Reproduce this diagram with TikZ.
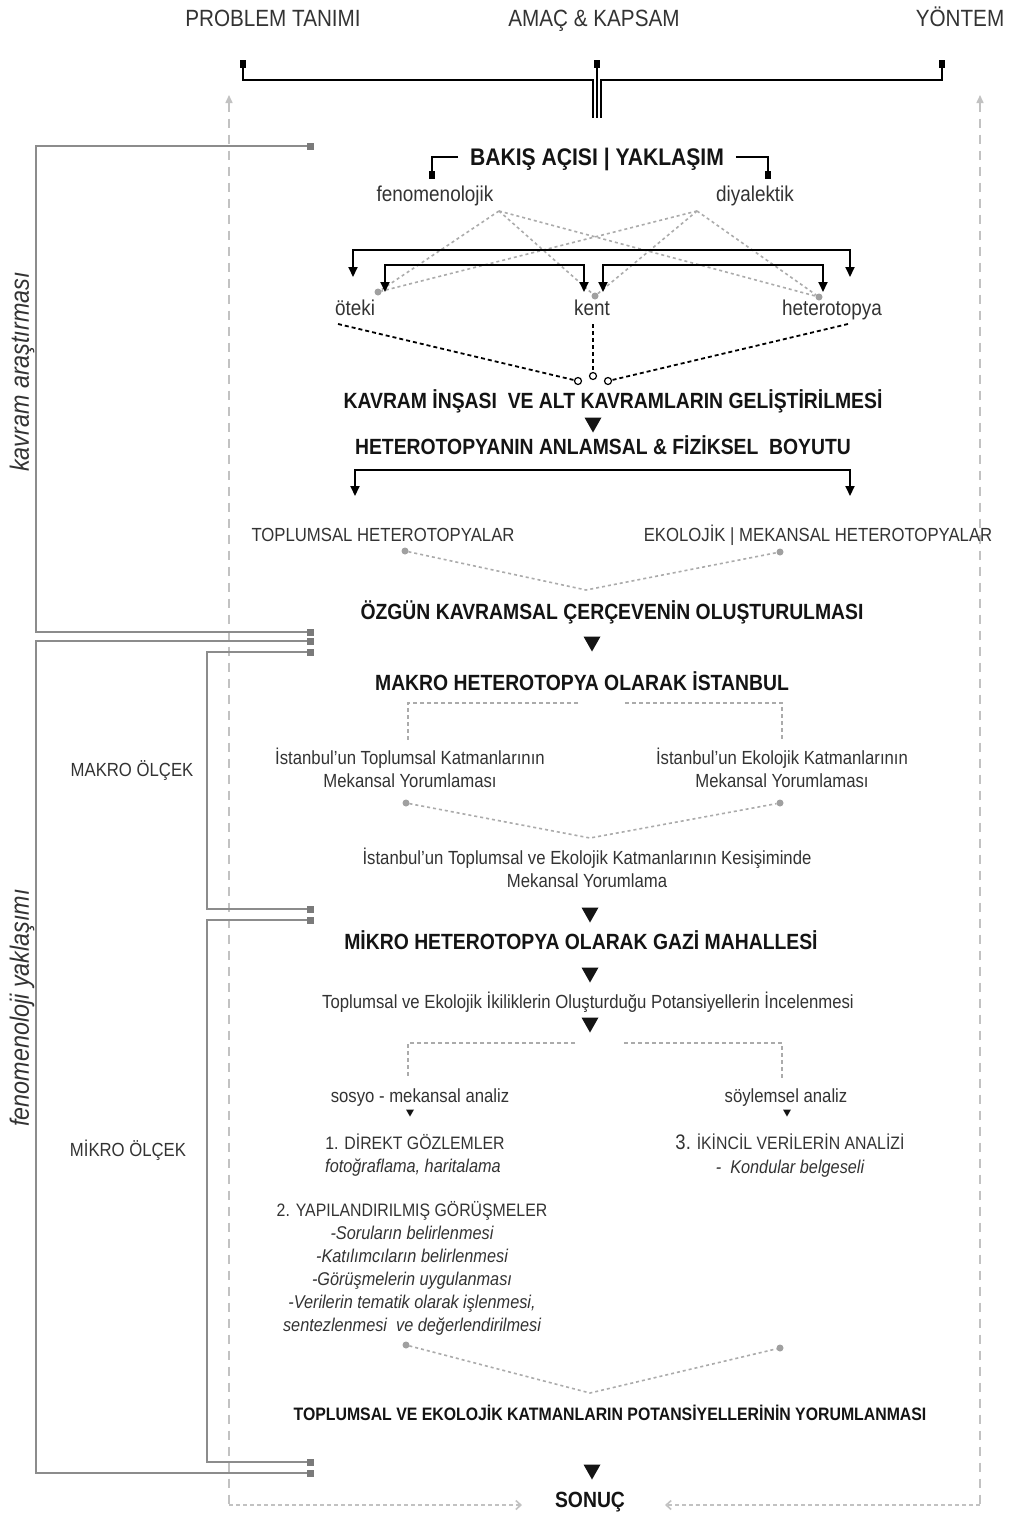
\documentclass[tikz,border=0pt]{standalone}
\usepackage{fontspec}
\setmainfont{Liberation Sans}[FakeStretch=0.88]
\usetikzlibrary{arrows.meta}
\definecolor{txt}{HTML}{333333}
\definecolor{ink}{HTML}{141414}
\definecolor{brgray}{HTML}{8C8C8C}
\definecolor{sqgray}{HTML}{7A7A7A}
\definecolor{dgray}{HTML}{ABABAB}
\definecolor{dotgray}{HTML}{A0A0A0}
\definecolor{sgray}{HTML}{C2C2C2}
\tikzset{
  every node/.style={inner sep=0pt, outer sep=0pt},
  toplbl/.style={text height=16.8pt, text depth=0pt, font=\fontsize{23.5}{26}\selectfont, text=txt},
  hdL/.style={text height=17.2pt, text depth=0pt, font=\bfseries\fontsize{24}{26}\selectfont, text=ink},
  hd/.style={text height=15.8pt, text depth=0pt, font=\bfseries\fontsize{22}{24}\selectfont, text=ink},
  hdS/.style={text height=12.9pt, text depth=0pt, font=\bfseries\fontsize{18}{20}\selectfont, text=ink},
  reg/.style={text height=15.4pt, text depth=0pt, font=\fontsize{21.5}{24}\selectfont, text=txt},
  body/.style={text height=13.6pt, text depth=0pt, font=\fontsize{19}{23}\selectfont, text=txt},
  sml/.style={text height=12.9pt, text depth=0pt, font=\fontsize{18}{23}\selectfont, text=txt},
  itl/.style={text height=13.2pt, text depth=0pt, font=\itshape\fontsize{18.5}{23}\selectfont, text=txt},
  sidelbl/.style={font=\itshape\fontsize{26.5}{28}\selectfont, text=txt, rotate=90},
  gbr/.style={draw=brgray, line width=2.4pt},
  blk/.style={draw=black, line width=1.9pt},
  blkarr/.style={draw=black, line width=1.9pt, {Triangle[length=10pt,width=9pt]}-{Triangle[length=10pt,width=9pt]}},
  gdot/.style={draw=dgray, line width=1.6pt, dash pattern=on 3pt off 3pt},
  gdash/.style={draw=dgray, line width=1.6pt, dash pattern=on 4pt off 3pt},
  kdot/.style={draw=black, line width=1.8pt, dash pattern=on 4pt off 3pt},
  sdash/.style={draw=sgray, line width=1.5pt, dash pattern=on 9pt off 7pt},
  sdot/.style={draw=sgray, line width=1.6pt, dash pattern=on 4pt off 3pt},
  gdotn/.style={circle, fill=dotgray, minimum size=7pt},
  ocirc/.style={circle, draw=black, line width=1.2pt, fill=white, minimum size=7pt},
  dtri/.pic={\fill[ink] (-8.5,-7.5) -- (8.5,-7.5) -- (0,7.5) -- cycle;},
  stri/.pic={\fill[ink] (-4,-3.5) -- (4,-3.5) -- (0,3.5) -- cycle;},
  gsq/.pic={\fill[sqgray] (-3.5,-3.5) rectangle (3.5,3.5);},
  bsq/.pic={\fill[black] (-3,-4) rectangle (3,4);}
}
\begin{document}
\begin{tikzpicture}[x=1pt,y=-1pt]
\useasboundingbox[fill=white] (0,0) rectangle (1013,1513);

% ---------- side dashed feedback lines ----------
\coordinate (lt) at (229,95);
\coordinate (lb) at (229,1505);
\coordinate (le) at (522,1505);
\coordinate (rt) at (980,95);
\coordinate (rb) at (980,1505);
\coordinate (re) at (665,1505);
\draw[sdash, {Triangle[length=8pt,width=7pt,fill=sgray]}-] (lt) -- (lb);
\draw[sdot, -{Straight Barb[length=5pt,width=9pt]}] (lb) -- (le);
\draw[sdash, {Triangle[length=8pt,width=7pt,fill=sgray]}-] (rt) -- (rb);
\draw[sdot, -{Straight Barb[length=5pt,width=9pt]}] (rb) -- (re);

% ---------- top ----------
\node[toplbl] (prob) at (273,18) {PROBLEM TANIMI};
\node[toplbl] (amac) at (594,18) {AMAÇ \& KAPSAM};
\node[toplbl] (yont) at (960,18) {YÖNTEM};
\coordinate (sqL) at (243,64);
\coordinate (sqC) at (597,64);
\coordinate (sqR) at (942,64);
\draw[blk] (sqL) -- (243,80) -- (593,80) -- (593,118);
\draw[blk, line width=1.6pt] (sqC) -- (597,118);
\draw[blk] (sqR) -- (942,80) -- (601,80) -- (601,118);
\pic at (sqL) {bsq};
\pic at (sqC) {bsq};
\pic at (sqR) {bsq};

% ---------- left brackets ----------
\coordinate (k1) at (310,146); \coordinate (k2) at (310,632);
\coordinate (f1) at (310,641); \coordinate (f2) at (310,1473);
\coordinate (m1) at (310,652); \coordinate (m2) at (310,909);
\coordinate (n1) at (310,920); \coordinate (n2) at (310,1462);
\draw[gbr] (k1) -- (36,146) -- (36,632) -- (k2);
\draw[gbr] (f1) -- (36,641) -- (36,1473) -- (f2);
\draw[gbr] (m1) -- (207,652) -- (207,909) -- (m2);
\draw[gbr] (n1) -- (207,920) -- (207,1462) -- (n2);
\foreach \p in {k1,k2,f1,f2,m1,m2,n1,n2} {\pic at (\p) {gsq};}
\node[sidelbl] (kav) at (22,372) {kavram araştırması};
\node[sidelbl] (fen) at (22,1008) {fenomenoloji yaklaşımı};
\node[body] (makro) at (132,770) {MAKRO ÖLÇEK};
\node[body] (mikro) at (128,1150) {MİKRO ÖLÇEK};

% ---------- bakis acisi ----------
\node[hdL] (bakis) at (597,157) {BAKIŞ AÇISI | YAKLAŞIM};
\coordinate (bsl) at (432,175);
\coordinate (bsr) at (768,175);
\draw[blk] ([xshift=-12pt]bakis.west) -- (432,157) -- (bsl);
\draw[blk] ([xshift=12pt]bakis.east) -- (768,157) -- (bsr);
\pic at (bsl) {bsq};
\pic at (bsr) {bsq};
\node[reg] (fenk) at (435,194) {fenomenolojik};
\node[reg] (diya) at (755,194) {diyalektik};
\coordinate (fp) at (499,211);
\coordinate (dp) at (697,211);

\node[gdotn] (dO) at (378,292) {};
\node[gdotn] (dK) at (595,296) {};
\node[gdotn] (dH) at (819,297) {};
\foreach \t in {dO,dK,dH} {
  \draw[gdot] (fp) -- (\t);
  \draw[gdot] (dp) -- (\t);
}

\draw[blkarr] (353,277) -- (353,250) -- (850,250) -- (850,277);
\draw[blkarr] (385,292) -- (385,265) -- (584,265) -- (584,292);
\draw[blkarr] (603,292) -- (603,265) -- (823,265) -- (823,292);

\node[reg] (oteki) at (355,308) {öteki};
\node[reg] (kent) at (592,308) {kent};
\node[reg] (hetero) at (832,308) {heterotopya};

\node[ocirc] (o1) at (578,381) {};
\node[ocirc] (o2) at (593,376) {};
\node[ocirc] (o3) at (608,381) {};
\draw[kdot] (338,324) -- (o1);
\draw[kdot] (593,324) -- (o2);
\draw[kdot] (848,324) -- (o3);

\node[hd] (kavram) at (613,401) {KAVRAM İNŞASI\ \ VE ALT KAVRAMLARIN GELİŞTİRİLMESİ};
\pic at (593,425) {dtri};
\node[hd] (boyut) at (603,447) {HETEROTOPYANIN ANLAMSAL \& FİZİKSEL\ \ BOYUTU};
\draw[blkarr] (355,496) -- (355,470) -- (850,470) -- (850,496);

\node[body] (topH) at (383,535) {TOPLUMSAL HETEROTOPYALAR};
\node[body] (ekoH) at (818,535) {EKOLOJİK | MEKANSAL HETEROTOPYALAR};
\node[gdotn] (t1) at (405,551) {};
\node[gdotn] (t2) at (780,552) {};
\coordinate (cv1) at (586,590);
\draw[gdot] (t1) -- (cv1) -- (t2);

\node[hd] (ozgun) at (612,612) {ÖZGÜN KAVRAMSAL ÇERÇEVENİN OLUŞTURULMASI};
\pic at (592,644) {dtri};
\node[hd] (makroH) at (582,683) {MAKRO HETEROTOPYA OLARAK İSTANBUL};
\draw[gdash] (578,703) -- (408,703) -- (408,740);
\draw[gdash] (625,703) -- (782,703) -- (782,740);

\node[body] (istT1) at (410,758) {İstanbul’un Toplumsal Katmanlarının};
\node[body] (istT2) at (410,781) {Mekansal Yorumlaması};
\node[body] (istE1) at (782,758) {İstanbul’un Ekolojik Katmanlarının};
\node[body] (istE2) at (782,781) {Mekansal Yorumlaması};
\node[gdotn] (t3) at (406,803) {};
\node[gdotn] (t4) at (780,803) {};
\coordinate (cv2) at (590,838);
\draw[gdot] (t3) -- (cv2) -- (t4);
\node[body] (kes1) at (587,858) {İstanbul’un Toplumsal ve Ekolojik Katmanlarının Kesişiminde};
\node[body] (kes2) at (587,881) {Mekansal Yorumlama};
\pic at (590,915) {dtri};

\node[hd] (mikroH) at (581,942) {MİKRO HETEROTOPYA OLARAK GAZİ MAHALLESİ};
\pic at (590,975) {dtri};
\node[body] (ikil) at (588,1002) {Toplumsal ve Ekolojik İkiliklerin Oluşturduğu Potansiyellerin İncelenmesi};
\pic at (590,1025) {dtri};
\draw[gdash] (575,1043) -- (408,1043) -- (408,1078);
\draw[gdash] (624,1043) -- (782,1043) -- (782,1078);

\node[body] (sosyo) at (420,1096) {sosyo - mekansal analiz};
\node[body] (soylem) at (786,1096) {söylemsel analiz};
\pic at (410,1113) {stri};
\pic at (787,1113) {stri};

\node[sml] (direkt) at (415,1143) {1. DİREKT GÖZLEMLER};
\node[itl] (foto) at (413,1166) {fotoğraflama, haritalama};
\node[sml] (ikincil) at (790,1143) {{\fontsize{21}{23}\selectfont 3.} İKİNCİL VERİLERİN ANALİZİ};
\node[itl] (kondu) at (790,1167) {-\ \ Kondular belgeseli};

\node[sml] (yapi) at (412,1210) {2. YAPILANDIRILMIŞ GÖRÜŞMELER};
\node[itl] (y1) at (412,1233) {-Soruların belirlenmesi};
\node[itl] (y2) at (412,1256) {-Katılımcıların belirlenmesi};
\node[itl] (y3) at (412,1279) {-Görüşmelerin uygulanması};
\node[itl] (y4) at (412,1302) {-Verilerin tematik olarak işlenmesi,};
\node[itl] (y5) at (412,1325) {sentezlenmesi\ \ ve değerlendirilmesi};

\node[gdotn] (t5) at (406,1345) {};
\node[gdotn] (t6) at (780,1348) {};
\coordinate (cv3) at (590,1393);
\draw[gdot] (t5) -- (cv3) -- (t6);

\node[hdS] (potan) at (610,1414) {TOPLUMSAL VE EKOLOJİK KATMANLARIN POTANSİYELLERİNİN YORUMLANMASI};
\pic at (592,1472) {dtri};
\node[hd] (sonuc) at (590,1500) {SONUÇ};
\end{tikzpicture}
\end{document}
